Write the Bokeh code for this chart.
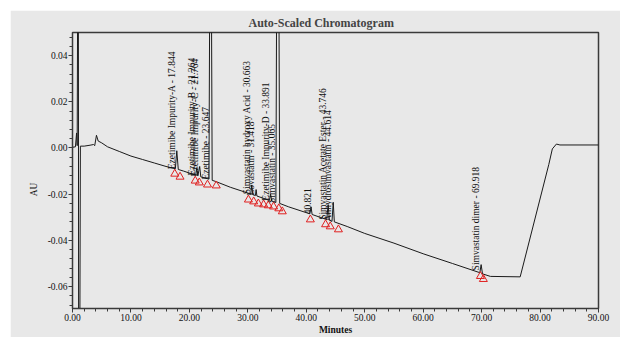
import numpy as np
from bokeh.plotting import figure
from bokeh.models import ColumnDataSource, SingleIntervalTicker, NumeralTickFormatter, Range1d
from bokeh.core.properties import value
from bokeh.embed import file_html
from bokeh.resources import INLINE

# ---- data ----
trace_min = [0.00, 0.50, 0.70, 0.80, 0.90, 1.00, 1.05, 1.25, 1.35, 2.00, 3.00, 3.60, 3.80, 4.10, 4.40,
             5.00, 6.00, 8.00, 10.00, 12.00, 14.00, 16.00, 17.60, 17.844, 18.10, 19.00, 21.10, 21.264,
             21.45, 21.764, 21.95, 23.35, 23.50, 23.75, 23.90, 24.50, 27.00, 30.00, 30.50, 30.663, 30.85,
             31.30, 31.418, 31.55, 33.70, 33.891, 34.10, 34.80, 34.95, 35.30, 35.45, 37.00, 40.60, 40.821,
             41.00, 43.50, 43.746, 43.95, 44.40, 44.614, 44.80, 47.00, 50.00, 55.00, 60.00, 65.00, 69.70,
             69.918, 70.15, 71.50, 76.60, 81.50, 82.10, 82.80, 83.40, 90.00]
trace_au = [0.0003, 0.0005, 0.0065, 0.0010, 0.0800, 0.0800, -0.0900, -0.0900, 0.0008, 0.0008, 0.0012,
            0.0015, 0.0010, 0.0055, 0.0030, 0.0022, 0.0005, -0.0015, -0.0035, -0.0050, -0.0065, -0.0080,
            -0.0090, -0.0012, -0.0093, -0.0100, -0.0118, -0.0085, -0.0120, -0.0080, -0.0125, -0.0135,
            0.0800, 0.0800, -0.0140, -0.0145, -0.0170, -0.0195, -0.0200, -0.0160, -0.0202, -0.0206,
            -0.0180, -0.0208, -0.0227, -0.0200, -0.0230, -0.0236, 0.0800, 0.0800, -0.0240, -0.0255,
            -0.0285, -0.0255, -0.0288, -0.0310, -0.0245, -0.0312, -0.0318, -0.0235, -0.0320, -0.0340,
            -0.0370, -0.0412, -0.0458, -0.0500, -0.0540, -0.0505, -0.0545, -0.0556, -0.0558, -0.0071,
            -0.0004, 0.0017, 0.0013, 0.0013]

peak_labels = ["Ezetimibe Impurity-A - 17.844", "Ezetimibe Impurity-B - 21.264",
               "Ezetimibe Impurity-C - 21.764", "Ezetimibe - 23.647",
               "Simvastatin hydroxy Acid - 30.663", "Lovastatin - 31.418",
               "Ezetimibe Impurity-D - 33.891", "Simvastatin - 35.065", "40.821",
               "Simvastatin Acetate Ester - 43.746", "Anhydrosimvastatin - 44.614",
               "Simvastatin dimer - 69.918"]
peak_min = [17.844, 21.264, 21.764, 23.647, 30.663, 31.418, 33.891, 35.065, 40.821, 43.746, 44.614, 69.918]
peak_label_au = [-0.0092, -0.0119, -0.0123, -0.0137, -0.0200, -0.0206, -0.0228, -0.0238, -0.0287,
                 -0.0311, -0.0318, -0.0530]

marker_min = [17.5, 18.4, 21.0, 21.7, 23.1, 24.6, 30.1, 31.0, 31.8, 32.7, 33.5, 34.4, 35.3, 35.9,
              40.7, 43.3, 44.1, 45.5, 69.8, 70.3]
marker_au = [-0.0112, -0.0125, -0.0142, -0.0150, -0.0159, -0.0163, -0.0224, -0.0232, -0.0241, -0.0245,
             -0.0249, -0.0254, -0.0262, -0.0275, -0.0310, -0.0331, -0.0340, -0.0353, -0.0555, -0.0568]

BG = "#e8e8e8"
FONT = "Liberation Serif"

p = figure(width=610, height=327, output_backend="svg", toolbar_location=None,
           x_range=Range1d(0, 90), y_range=Range1d(-0.0695, 0.0500),
           min_border_left=62, min_border_right=22, min_border_top=20, min_border_bottom=29,
           background_fill_color=BG, border_fill_color=BG,
           title="Auto-Scaled Chromatogram")
p.margin = (10, 0, 0, 10)
p.title.align = "left"
p.title.offset = 176
p.title.text_font = FONT
p.title.text_font_size = "12px"
p.title.text_font_style = "bold"
p.title.standoff = 6

p.outline_line_color = "#3a3a3a"
p.outline_line_width = 1.5
p.xgrid.visible = False
p.ygrid.visible = False

p.xaxis.ticker = SingleIntervalTicker(interval=10, num_minor_ticks=5)
p.yaxis.ticker = SingleIntervalTicker(interval=0.02, num_minor_ticks=5)
p.xaxis.formatter = NumeralTickFormatter(format="0.00")
p.yaxis.formatter = NumeralTickFormatter(format="0.00")
for ax in (p.xaxis, p.yaxis):
    ax.major_label_text_font = FONT
    ax.major_label_text_font_size = "9.5px"
    ax.major_label_text_color = "#111111"
    ax.axis_label_text_font = FONT
    ax.axis_label_text_font_size = "9.5px"
    ax.axis_label_text_color = "#111111"
    ax.axis_label_text_font_style = "normal"
    ax.major_tick_out = 4
    ax.major_tick_in = 0
    ax.minor_tick_out = 3
    ax.minor_tick_in = 0
    ax.axis_line_color = "#3a3a3a"
    ax.major_tick_line_color = "#3a3a3a"
    ax.minor_tick_line_color = "#3a3a3a"
    ax.major_label_standoff = 1
    ax.axis_label_standoff = 1
p.xaxis.axis_label = "Minutes"
p.xaxis.axis_label_text_font_style = "bold"
# trailing no-break spaces push the caption a little below the frame's middle, as in the reference
p.yaxis.axis_label = "AU" + "\u00a0" * 16
p.yaxis.axis_label_standoff = 6

src = ColumnDataSource(dict(t=trace_min, au=trace_au))
p.line("t", "au", source=src, line_color="#1a1a1a", line_width=1)

msrc = ColumnDataSource(dict(t=marker_min, au=marker_au))
p.scatter("t", "au", source=msrc, marker="triangle", size=8, fill_alpha=0,
          line_color="#e02020", line_width=1)

lsrc = ColumnDataSource(dict(t=peak_min, au=peak_label_au, label=peak_labels))
p.text("t", "au", text="label", source=lsrc, angle=np.pi / 2, text_align="left",
       text_baseline="bottom", text_font=value(FONT), text_font_size="9.5px",
       text_color="#111111")

open("out.html", "w").write(file_html(p, INLINE))
